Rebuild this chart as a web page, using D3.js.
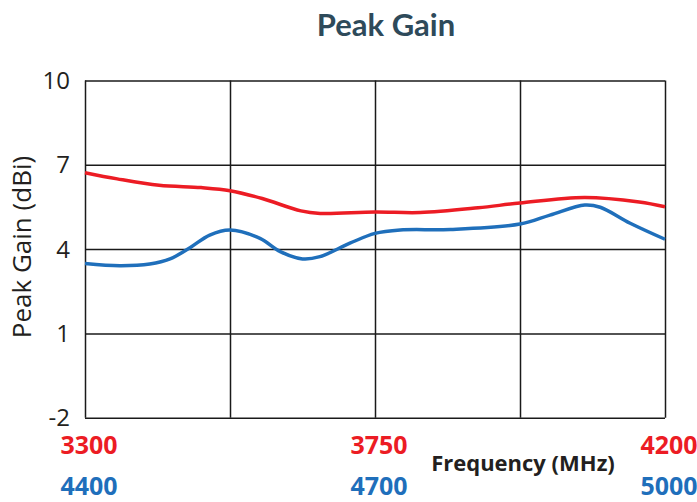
<!DOCTYPE html>
<html><head><meta charset="utf-8">
<script src="https://cdn.jsdelivr.net/npm/d3@7"></script>
<style>body{margin:0;background:#fff}svg{display:block}</style>
</head><body>
<svg id="c" width="697" height="502"></svg>
<script>
const title = "Peak Gain";
const yTicks = [-2, 1, 4, 7, 10];
const redTicks = [3300, 3750, 4200];
const blueTicks = [4400, 4700, 5000];
const redFreq = [3300, 3350, 3415, 3480, 3525, 3575, 3635, 3665, 3750, 3820, 3910, 3975, 4075, 4160, 4200];
const redGain = [6.72, 6.50, 6.27, 6.19, 6.08, 5.80, 5.36, 5.27, 5.32, 5.30, 5.47, 5.64, 5.84, 5.68, 5.51];
const blueFreq = [4400, 4436, 4467, 4488, 4509, 4529, 4550, 4581, 4602, 4625, 4643, 4674, 4700, 4726, 4778, 4850, 4881, 4917, 4933, 4964, 5000];
const blueGain = [3.49, 3.41, 3.47, 3.65, 4.06, 4.50, 4.68, 4.38, 3.91, 3.65, 3.73, 4.21, 4.56, 4.68, 4.70, 4.89, 5.21, 5.57, 5.49, 4.92, 4.35];

const RED = "#ec1c24", BLUE = "#1f6fbb";
const svg = d3.select("#c");
const L = 85, R = 665, T = 80.5, B = 417.7;
const y = d3.scaleLinear().domain([-2, 10]).range([B, T]);
const xr = d3.scaleLinear().domain([3300, 4200]).range([L, R]);
const xb = d3.scaleLinear().domain([4400, 5000]).range([L, R]);

svg.append("text").attr("x", 386).attr("y", 36).attr("text-anchor", "middle")
  .attr("font-family", "Lato, 'Open Sans', sans-serif").attr("font-weight", 700)
  .attr("font-size", 31).attr("fill", "#2e4a5a").text(title);

const g = svg.append("g");
g.append("g").attr("transform", `translate(${L},0)`)
  .call(d3.axisLeft(y).tickValues(yTicks).tickSize(-(R - L)).tickFormat(""))
  .call(a => a.select(".domain").remove())
  .call(a => a.selectAll("line").attr("stroke", "#1a1a1a").attr("stroke-width", 1.5));
const vTicks = d3.range(0, 5).map(i => 3300 + i * 225);
g.append("g").attr("transform", `translate(0,${B})`)
  .call(d3.axisBottom(xr).tickValues(vTicks).tickSize(-(B - T)).tickFormat(""))
  .call(a => a.select(".domain").remove())
  .call(a => a.selectAll("line").attr("stroke", "#1a1a1a").attr("stroke-width", 1.5));

svg.append("g").selectAll("text").data(yTicks).join("text")
  .attr("x", 70).attr("y", d => y(d)).attr("dy", "0.35em").attr("text-anchor", "end")
  .attr("font-family", "'Open Sans', sans-serif").attr("font-size", 24).attr("fill", "#231f20")
  .text(d => d);

svg.append("text").attr("transform", `translate(31,247) rotate(-90)`)
  .attr("text-anchor", "middle").attr("font-family", "'Open Sans', sans-serif")
  .attr("font-size", 26).attr("fill", "#231f20").text("Peak Gain (dBi)");

svg.append("g").selectAll("text").data(redTicks).join("text")
  .attr("x", d => xr(d) + 4).attr("y", 454).attr("text-anchor", "middle")
  .attr("font-family", "'Open Sans', sans-serif").attr("font-weight", 700)
  .attr("font-size", 25).attr("fill", RED).text(d => d);
svg.append("g").selectAll("text").data(blueTicks).join("text")
  .attr("x", d => xb(d) + 4).attr("y", 495).attr("text-anchor", "middle")
  .attr("font-family", "'Open Sans', sans-serif").attr("font-weight", 700)
  .attr("font-size", 25).attr("fill", BLUE).text(d => d);
svg.append("text").attr("x", 523).attr("y", 471).attr("text-anchor", "middle")
  .attr("font-family", "'Open Sans', sans-serif").attr("font-weight", 700)
  .attr("font-size", 22).attr("fill", "#231f20").text("Frequency (MHz)");

const line = (xs) => d3.line().x(d => xs(d[0])).y(d => y(d[1])).curve(d3.curveCatmullRom.alpha(0.5));
svg.append("path").datum(redFreq.map((f, i) => [f, redGain[i]]))
  .attr("d", line(xr)).attr("fill", "none").attr("stroke", RED).attr("stroke-width", 3.5);
svg.append("path").datum(blueFreq.map((f, i) => [f, blueGain[i]]))
  .attr("d", line(xb)).attr("fill", "none").attr("stroke", BLUE).attr("stroke-width", 3.5);
</script>
</body></html>
